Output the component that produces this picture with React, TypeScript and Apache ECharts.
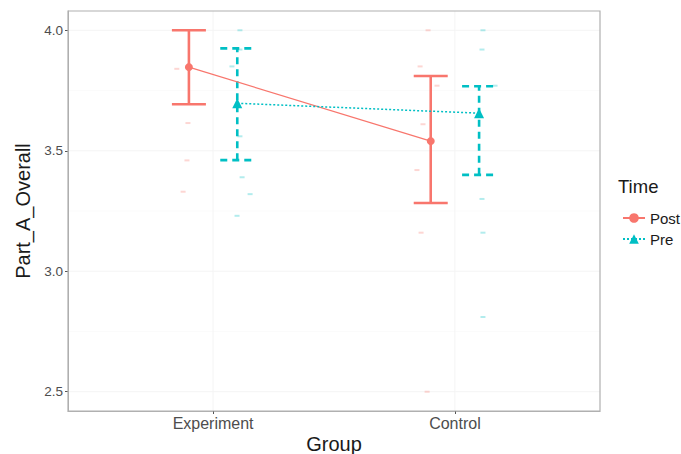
import React, { useEffect, useRef } from "react";
import * as echarts from "echarts";

const groups = ["Experiment", "Control"];
const groupPos = [1, 2];
const yTicks = [2.5, 3.0, 3.5, 4.0];
const yMinor = [2.75, 3.25, 3.75];

// means (x = dodged group position)
const postMeans: [number, number][] = [[0.9, 3.847], [1.9, 3.54]];
const preMeans: [number, number][] = [[1.1, 3.697], [2.1, 3.656]];
// error bars [x, low, high]
const postErr: [number, number, number][] = [[0.9, 3.693, 4.0], [1.9, 3.283, 3.81]];
const preErr: [number, number, number][] = [[1.1, 3.461, 3.925], [2.1, 3.40, 3.768]];
// faint raw observations
const postRaw: [number, number][] = [
  [0.85, 3.84], [0.896, 3.615], [0.892, 3.46], [0.876, 3.33],
  [1.889, 4.0], [1.856, 3.85], [1.926, 3.77], [1.868, 3.61], [1.843, 3.42], [1.86, 3.16], [1.885, 2.5],
];
const preRaw: [number, number][] = [
  [1.111, 4.0], [1.111, 3.92], [1.078, 3.85], [1.111, 3.56], [1.12, 3.39], [1.153, 3.32], [1.099, 3.23],
  [2.116, 4.0], [2.112, 3.92], [2.166, 3.77], [2.112, 3.30], [2.116, 3.16], [2.116, 2.81],
];

const RED = "#F8766D";
const TEAL = "#00BFC4";
const FONT = "Liberation Sans, Arial, sans-serif";

function errRender(color: string, dash: number[] | null) {
  return (params: any, api: any) => {
    const x = api.value(0);
    const lo = api.coord([x, api.value(1)]);
    const hi = api.coord([x, api.value(2)]);
    const half = 17;
    const mk = () => {
      const s: any = { stroke: color, lineWidth: 2.6, fill: null };
      if (dash) s.lineDash = dash;
      return s;
    };
    return {
      type: "group",
      children: [
        { type: "line", shape: { x1: lo[0], y1: lo[1], x2: hi[0], y2: hi[1] }, style: mk() },
        { type: "line", shape: { x1: hi[0] - half, y1: hi[1], x2: hi[0] + half, y2: hi[1] }, style: mk() },
        { type: "line", shape: { x1: lo[0] - half, y1: lo[1], x2: lo[0] + half, y2: lo[1] }, style: mk() },
      ],
    };
  };
}

function gridRender(params: any, api: any) {
  const cs = params.coordSys;
  const kind = api.value(0);
  const v = api.value(1);
  if (kind === 2) {
    const x = api.coord([v, 3])[0];
    return {
      type: "line",
      shape: { x1: x, y1: cs.y, x2: x, y2: cs.y + cs.height },
      style: { stroke: "#f4f4f4", lineWidth: 1 },
    };
  }
  const y = api.coord([1, v])[1];
  return {
    type: "line",
    shape: { x1: cs.x, y1: y, x2: cs.x + cs.width, y2: y },
    style: { stroke: kind === 0 ? "#f4f4f4" : "#f8f8f8", lineWidth: kind === 0 ? 1 : 0.6 },
  };
}

export default function App() {
  const ref = useRef<HTMLDivElement>(null);
  useEffect(() => {
    if (!ref.current) return;
    const chart = echarts.init(ref.current, null, { renderer: "svg" });
    const gridData = [
      ...yTicks.map((v) => [0, v]),
      ...yMinor.map((v) => [1, v]),
      ...groupPos.map((v) => [2, v]),
    ];
    chart.setOption({
      animation: false,
      backgroundColor: "#ffffff",
      textStyle: { fontFamily: FONT },
      grid: { left: 68, right: 81, top: 11, bottom: 43, outerBoundsMode: "none", show: false },
      xAxis: {
        type: "value",
        min: 0.4,
        max: 2.6,
        name: "Group",
        nameLocation: "middle",
        nameGap: 23,
        nameMoveOverlap: false,
        nameTextStyle: { fontSize: 20, color: "#1a1a1a", fontFamily: FONT, verticalAlign: "top" },
        axisLine: { show: true, onZero: false, lineStyle: { color: "#b0b0b0", width: 1 } },
        axisTick: { show: true, customValues: groupPos, length: 3, lineStyle: { color: "#555" } },
        axisLabel: {
          customValues: groupPos,
          formatter: (v: number) => groups[groupPos.indexOf(Math.round(v))] ?? "",
          fontSize: 16,
          color: "#4d4d4d",
          margin: 4,
          fontFamily: FONT,
        },
        splitLine: { show: false },
      },
      yAxis: {
        type: "value",
        min: 2.42,
        max: 4.08,
        name: "Part_A_Overall",
        nameLocation: "middle",
        nameGap: 35,
        nameRotate: 90,
        nameMoveOverlap: false,
        nameTextStyle: { fontSize: 20, color: "#1a1a1a", fontFamily: FONT },
        axisLine: { show: true, onZero: false, lineStyle: { color: "#b0b0b0", width: 1 } },
        axisTick: { show: true, customValues: yTicks, length: 3, lineStyle: { color: "#555" } },
        axisLabel: {
          customValues: yTicks,
          formatter: (v: number) => v.toFixed(1),
          fontSize: 13.5,
          color: "#4d4d4d",
          margin: 5,
          fontFamily: FONT,
        },
        splitLine: { show: false },
      },
      graphic: [
        { type: "rect", shape: { x: 68, y: 11, width: 532, height: 400 }, style: { fill: "none", stroke: "#b0b0b0", lineWidth: 1.2 }, silent: true, z: 10 },
        { type: "text", left: 618, top: 177, style: { text: "Time", fontSize: 18.5, fill: "#1a1a1a", fontFamily: FONT } },
      ],
      legend: {
        show: true,
        orient: "vertical",
        left: 617,
        top: 205,
        itemGap: 5,
        itemWidth: 22,
        itemHeight: 12,
        selectedMode: false,
        textStyle: { fontSize: 15, color: "#1a1a1a", fontFamily: FONT, lineHeight: 16 },
        data: ["Post", "Pre"],
      },
      series: [
        {
          type: "custom",
          name: "gridlines",
          data: gridData,
          encode: { x: -1, y: -1 },
          renderItem: gridRender,
          silent: true,
          z: 0,
        },
        {
          type: "scatter",
          name: "postRaw",
          data: postRaw,
          symbol: "rect",
          symbolSize: [5, 2],
          itemStyle: { color: RED, opacity: 0.3 },
          silent: true,
        },
        {
          type: "scatter",
          name: "preRaw",
          data: preRaw,
          symbol: "rect",
          symbolSize: [5, 2],
          itemStyle: { color: TEAL, opacity: 0.3 },
          silent: true,
        },
        {
          type: "custom",
          name: "postErr",
          data: postErr,
          encode: { x: 0, y: [1, 2] },
          renderItem: errRender(RED, null),
          silent: true,
          clip: false,
          z: 3,
        },
        {
          type: "custom",
          name: "preErr",
          data: preErr,
          encode: { x: 0, y: [1, 2] },
          renderItem: errRender(TEAL, [7, 5]),
          silent: true,
          clip: false,
          z: 3,
        },
        {
          type: "line",
          name: "Post",
          data: postMeans,
          symbol: "circle",
          symbolSize: 8,
          silent: true,
          itemStyle: { color: RED },
          lineStyle: { color: RED, width: 1.2, type: "solid" },
          z: 4,
        },
        {
          type: "line",
          name: "Pre",
          data: preMeans,
          symbol: "triangle",
          symbolSize: 10,
          silent: true,
          itemStyle: { color: TEAL },
          lineStyle: { color: TEAL, width: 1.5, type: [2, 2] },
          z: 4,
        },
      ],
    });
    return () => chart.dispose();
  }, []);
  return (
    <div
      ref={ref}
      style={{ position: "fixed", left: 0, top: 0, width: 681, height: 454 }}
    />
  );
}
